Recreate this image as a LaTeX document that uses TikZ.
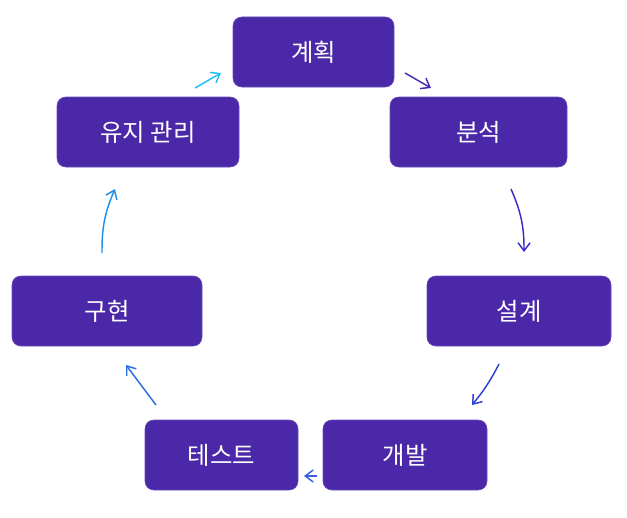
\documentclass[tikz,border=0pt]{standalone}
\usepackage{fontspec}
\setmainfont{Noto Sans CJK KR}
\usetikzlibrary{arrows.meta}

\definecolor{boxfill}{HTML}{4A28A7}
\definecolor{boxline}{HTML}{6A4CC0}
\definecolor{arrA}{HTML}{4B2BB0}
\definecolor{arrB}{HTML}{3B2DC4}
\definecolor{arrC}{HTML}{2E3FD4}
\definecolor{arrD}{HTML}{3A5EE0}
\definecolor{arrE}{HTML}{2A6FE0}
\definecolor{arrF}{HTML}{1D90EE}
\definecolor{arrG}{HTML}{22C0F0}

\begin{document}
\begin{tikzpicture}[x=0.75pt, y=-0.75pt,
  stage/.style={draw=boxline, line width=0.4pt, fill=boxfill, rounded corners=6.5pt,
    minimum height=52.5pt, text=white, font=\fontsize{18.3}{21}\selectfont, inner sep=0pt},
  flow/.style={line width=1.1pt, -{Straight Barb[length=6pt, width=9pt]}}]
% Fix the page size
\useasboundingbox (0, 0) rectangle (627, 517);

% Draw the stages
\node[stage, minimum width=120.75pt] (plan) at (313.5, 52) {계획};
\node[stage, minimum width=132.75pt] (anal) at (478.5, 132) {분석};
\node[stage, minimum width=138pt] (design) at (519, 311) {설계};
\node[stage, minimum width=123pt] (dev) at (405, 455) {개발};
\node[stage, minimum width=114.75pt] (test) at (221.5, 455) {테스트};
\node[stage, minimum width=142.5pt] (impl) at (107, 311) {구현};
\node[stage, minimum width=136.5pt] (maint) at (148, 132) {유지 관리};

% Arrow ends
\coordinate (a1) at (405, 73);  \coordinate (b1) at (431, 88);
\coordinate (a2) at (511, 189); \coordinate (b2) at (524, 252);
\coordinate (a3) at (499, 364); \coordinate (b3) at (472, 405);
\coordinate (a4) at (317, 476); \coordinate (b4) at (304, 476);
\coordinate (a5) at (156, 405); \coordinate (b5) at (126, 365);
\coordinate (a6) at (102, 253); \coordinate (b6) at (115, 189);
\coordinate (a7) at (195, 88);  \coordinate (b7) at (221, 73);

% Draw the arrows
\draw[flow, arrA] (a1) -- (b1);
\draw[flow, arrB] (a2) to[bend left=12] (b2);
\draw[flow, arrC] (a3) to[bend left=6] (b3);
\draw[flow, arrD] (a4) -- (b4);
\draw[flow, arrE] (a5) -- (b5);
\draw[flow, arrF] (a6) to[bend left=12] (b6);
\draw[flow, arrG] (a7) -- (b7);
\end{tikzpicture}
\end{document}
